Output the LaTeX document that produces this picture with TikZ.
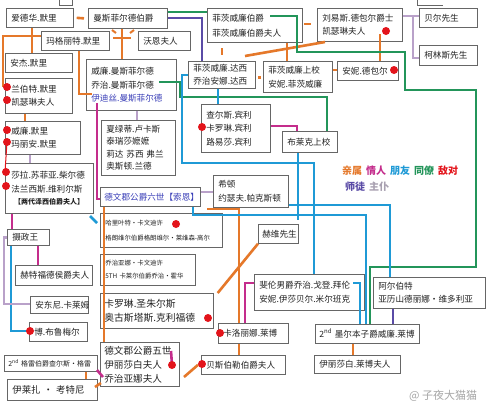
\documentclass[tikz,border=0pt]{standalone}
\usepackage{fontspec}
\setmainfont{Noto Sans CJK SC}
\definecolor{cRel}{HTML}{E5782A}
\definecolor{cLove}{HTML}{C42D8C}
\definecolor{cFr}{HTML}{1F9AD6}
\definecolor{cCol}{HTML}{23955A}
\definecolor{cEn}{HTML}{E3141B}
\definecolor{cMen}{HTML}{5A4BA6}
\definecolor{cSer}{HTML}{B9A1C9}
\definecolor{cSerT}{HTML}{A8A0B0}
\definecolor{boxgray}{HTML}{666666}
\definecolor{txt}{HTML}{222222}
\definecolor{nblue}{HTML}{3A3FB8}
\begin{document}
\begin{tikzpicture}[x=1pt,y=-1pt,
  box/.style={draw=boxgray, line width=0.7pt, fill=white, anchor=north west,
    inner xsep=5pt, inner ysep=0pt, align=left, text=txt,
    font=\fontsize{8.6}{13.5}\selectfont},
  small/.style={font=\fontsize{6.4}{15}\selectfont},
  dot/.style={circle, fill=cEn, minimum size=8pt, inner sep=0pt},
  lnk/.style={line width=2.6pt},
  rel/.style={lnk, draw=cRel},
  love/.style={lnk, draw=cLove},
  fr/.style={lnk, draw=cFr},
  col/.style={lnk, draw=cCol},
  men/.style={lnk, draw=cMen},
  ser/.style={lnk, draw=cSer}]
\useasboundingbox[fill=white] (0,0) rectangle (492,408);

% fragments of boxes cut at the top edge
\draw[boxgray, line width=0.7pt] (59,0) -- (59,5) -- (72,5) -- (72,0);
\draw[boxgray, line width=0.7pt] (417,0) -- (417,5) -- (443,5);

% ---------- boxes ----------
\node[box, text width=57pt, minimum height=19pt] (edw) at (6,8) {爱德华.默里};
\node[box, text width=69pt, minimum height=20pt] (mansE) at (88,8) {曼斯菲尔德伯爵};
\node[box, text width=58pt, minimum height=19pt] (marg) at (41,31) {玛格丽特.默里};
\node[box, text width=42pt, minimum height=19pt] (vaughan) at (138,31) {沃恩夫人};
\node[box, text width=57pt, minimum height=19pt] (anj) at (5,53) {安杰.默里};
\node[box, text width=80pt, minimum height=51pt] (mansW) at (86,59) {威廉.曼斯菲尔德\\乔治.曼斯菲尔德\\\textcolor{nblue}{伊迪丝.曼斯菲尔德}};
\coordinate (edith) at (92,94);
\node[box, text width=55pt, minimum height=35pt, inner xsep=6pt] (lamb) at (5,78) {兰伯特.默里\\凯瑟琳夫人};
\node[box, text width=63pt, minimum height=33pt, inner xsep=6pt] (wmur) at (5,121) {威廉.默里\\玛丽安.默里};
\node[box, text width=76pt, minimum height=50pt, inner xsep=6pt] (sarah) at (5,163) {莎拉.苏菲亚.柴尔德\\法兰西斯.维利尔斯\\[-1pt]{\fontsize{7}{9}\selectfont\bfseries\ 【两代泽西伯爵夫人】}};
\node[box, text width=32pt, minimum height=16pt] (regent) at (7,229) {摄政王};
\node[box, text width=67pt, minimum height=20pt] (hert) at (15,265) {赫特福德侯爵夫人};
\node[box, text width=48pt, minimum height=17pt] (anton) at (30,296) {安东尼.卡莱姆};
\node[box, text width=48pt, minimum height=19pt] (beau) at (29,322) {博.布鲁梅尔};
\node[box, text width=85pt, minimum height=16pt, inner xsep=4pt, font=\fontsize{7}{9}\selectfont] (grey) at (4,355) {2\textsuperscript{nd} 格雷伯爵查尔斯·格雷};
\node[box, text width=80pt, minimum height=21pt, font=\fontsize{9.4}{12}\selectfont] (eliza) at (7,379) {伊莱扎 · 考特尼};

\node[box, text width=64pt, minimum height=55pt, font=\fontsize{8.6}{12.2}\selectfont] (charl) at (101,120) {夏绿蒂.卢卡斯\\泰瑞莎嬷嬷\\莉达 苏西 弗兰\\奥斯顿.兰德};
\node[box, text width=92pt, minimum height=19pt, inner xsep=4pt] (dev6) at (100,187) {\textcolor{nblue}{德文郡公爵六世【索恩】}};
\node[box, text width=112pt, minimum height=34pt, small] (harr) at (100,213) {哈里叶特·卡文迪许\\格朗维尔伯爵格朗维尔·莱维森-高尔};
\node[box, text width=85pt, minimum height=31pt, small, font=\fontsize{6.4}{13}\selectfont] (georg) at (100,254) {乔治亚娜·卡文迪许\\5TH 卡莱尔伯爵乔治·霍华};
\node[box, text width=105pt, minimum height=35pt, inner xsep=4pt, font=\fontsize{9.8}{14}\selectfont] (carol) at (100,293) {卡罗琳.圣朱尔斯\\奥古斯塔斯.克利福德};
\node[box, text width=71pt, minimum height=44pt, inner xsep=4pt, font=\fontsize{9.6}{14}\selectfont] (dev5) at (100,342) {德文郡公爵五世\\伊丽莎白夫人\\乔治亚娜夫人};
\node[box, text width=60pt, minimum height=20pt] (caro) at (218,323) {卡洛丽娜.莱博};
\node[box, text width=74pt, minimum height=19pt] (bess) at (201,355) {贝斯伯勒伯爵夫人};
\node[box, text width=100pt, minimum height=36pt] (byron) at (254,274) {斐伦男爵乔治.戈登.拜伦\\安妮.伊莎贝尔.米尔班克};
\node[box, text width=102pt, minimum height=31pt] (alb) at (373,277) {阿尔伯特\\亚历山德丽娜·维多利亚};
\node[box, text width=96pt, minimum height=19pt, inner xsep=4pt] (melb) at (315,324) {2\textsuperscript{nd} 墨尔本子爵威廉.莱博};
\node[box, text width=76pt, minimum height=18pt] (elizL) at (314,355) {伊丽莎白.莱博夫人};
\node[box, text width=65pt, minimum height=32pt] (paxt) at (213,175) {希顿\\约瑟夫.帕克斯顿};
\node[box, text width=32pt, minimum height=19pt, inner xsep=4pt] (hervey) at (258,224) {赫维先生};

\node[box, text width=85pt, minimum height=34pt, font=\fontsize{8.6}{15}\selectfont] (fitzE) at (207,8) {菲茨威廉伯爵\\菲茨威廉伯爵夫人};
\node[box, text width=57pt, minimum height=27pt, font=\fontsize{8.6}{13}\selectfont] (darcy) at (188,61) {菲茨威廉.达西\\乔治安娜.达西};
\node[box, text width=59pt, minimum height=31pt, font=\fontsize{8.6}{14}\selectfont] (fitzC) at (263,61) {菲茨威廉上校\\安妮.菲茨威廉};
\node[box, text width=59pt, minimum height=48pt] (bing) at (201,104) {查尔斯.宾利\\卡罗琳.宾利\\路易莎.宾利};
\node[box, text width=45pt, minimum height=21pt] (brandon) at (282,131) {布莱克上校};
\node[box, text width=75pt, minimum height=33pt] (debL) at (317,8) {刘易斯.德包尔爵士\\凯瑟琳夫人};
\node[box, text width=48pt, minimum height=19pt] (bell) at (419,8) {贝尔先生};
\node[box, text width=48pt, minimum height=20pt] (coll) at (419,45) {柯林斯先生};
\node[box, text width=51pt, minimum height=19pt] (anneB) at (337,61) {安妮.德包尔};

% ---------- enemy dots (positions) ----------
\coordinate (ld1c) at (7,87);  \coordinate (ld2c) at (7,100);
\coordinate (wd1c) at (7,130); \coordinate (wd2c) at (7,142);
\coordinate (sd1c) at (6,172); \coordinate (sd2c) at (6,186);
\coordinate (beaudc) at (30,331);
\coordinate (dev5dc) at (172,365);

% ---------- relatives (orange) ----------
\draw[rel] ([xshift=3pt]edw.east) -- ([xshift=-4pt]mansE.west);
\draw[rel] (32,0 |- edw.south) -- (32,0 |- anj.north);
\draw[rel] (marg.west |- 0,36) -- (3,36) -- (3,0 |- ld1c);
\draw[rel] (79,0 |- marg.south) |- (edith);
\draw[rel] (122,0 |- mansE.south) -- (122,0 |- mansW.north);
\draw[rel] (113,38) -- (131,38);
\draw[rel, line width=2pt] (112,30) -- (116,33);
\draw[rel, line width=2pt] (130,33) -- (134,30);
\draw[rel] (25,0 |- lamb.south) -- (25,0 |- wmur.north);
\draw[rel] (222,48) -- (222,55);
\draw[rel] (245,56) -- (325,42);
\draw[rel] (287,0 |- fitzE.south) -- (287,0 |- fitzC.north);
\draw[rel] (304,24) -- (311,24);
\draw[rel] (fitzC.east |- 0,70) -- (anneB.west |- 0,70);
\fill[cRel] (258,76) rectangle (261,79);
\draw[rel] (380,34) -- (380,0 |- anneB.north);
\draw[rel] (104,0 |- dev6.south) -- (104,0 |- dev5.north);
\draw[rel] (207,209) -| (239,0 |- caro.north);
\draw[rel] (hervey.south west) -- ([xshift=4pt]carol.north east);
\draw[rel] (239,0 |- caro.south) -- (239,0 |- bess.north);
\draw[rel] ([xshift=-3pt]bess.west) -- (184,377);
\draw[rel] (353,0 |- melb.south) -- (353,0 |- elizL.north);
\draw[rel] (86,0 |- grey.south) -- (86,0 |- eliza.north);
\draw[rel] (95,387) -- (101,383);

% ---------- lovers (magenta) ----------
\draw[love] (97,103) |- (dev6.west |- 0,199);
\draw[love] (12,0 |- sarah.south) -- (12,0 |- regent.north);
\draw[love] (38,0 |- regent.south) -- (38,0 |- hert.north);
\draw[love] (245,0 |- caro.north) |- (byron.west |- 0,283);
\draw[love] (171,351) -- (dev5dc);
\draw[love] (bing.east |- 0,126) -| (297,0 |- brandon.north);
\draw[love] (97,370) -- (103,377);

% ---------- colleagues (green) ----------
\draw[col] (mansE.east |- 0,12) -- (fitzE.west |- 0,12);
\draw[col] (270,16) -| (297,52) -| (405,90) -| (476,267) -| (370,0 |- melb.north);
\draw[col] (159,82) -| (180,97) -| (327,0 |- brandon.north);

% ---------- friends (blue) ----------
\draw[fr] (darcy.west) -| (182,163) -| (314,0 |- byron.north);
\draw[fr] (298,0 |- brandon.south) -- (298,220);
\draw[fr] (paxt.east |- 0,205) -| (390,0 |- alb.north);
\draw[fr] (193,0 |- dev6.south) |- (366,215) -- (366,0 |- melb.north);
\draw[fr] (353,283) -| (360,0 |- melb.north);
\draw[fr] (11,0 |- regent.south) |- (beaudc);
\draw[fr] (90,216) -- (97,223);
\draw[fr] (218,0 |- darcy.south) -- (218,0 |- bing.north);

% ---------- mentor (purple) ----------
\draw[men] (mansE.east |- 0,18) -| (202,0 |- darcy.north);
\draw[men] (393,0 |- alb.south) -- (393,0 |- melb.north);

% ---------- servant (light purple) ----------
\draw[ser] (137,0 |- mansW.south) -- (137,0 |- charl.north);
\draw[ser] (30,0 |- wmur.south) -- (30,0 |- sarah.north);
\draw[ser] (debL.east |- 0,16) -- (bell.west |- 0,16);
\draw[ser] (413,16) |- (coll.west |- 0,58);
\draw[ser] (regent.west) -| (4,304) -- (anton.west |- 0,304);
\draw[ser] (dev6.east |- 0,192) -- (paxt.west |- 0,192);

% ---------- enemies (red dots) ----------
\draw[cEn, line width=1pt] (wd2c) -- (5,172);
\node[dot] (ld1) at (ld1c) {};
\node[dot] (ld2) at (ld2c) {};
\node[dot] (wd1) at (wd1c) {};
\node[dot] (wd2) at (wd2c) {};
\node[dot] (sd1) at (sd1c) {};
\node[dot] (sd2) at (sd2c) {};
\node[dot] (debd) at (386,31) {};
\node[dot] (anned) at (394,70) {};
\node[dot] (bingd) at (202,127) {};
\node[dot] (harrd) at (176,224) {};
\node[dot] (augd) at (208,318) {};
\node[dot] (carod) at (220,333) {};
\node[dot] (bessd) at (202,364) {};
\node[dot] (dev5d) at (dev5dc) {};
\node[dot] (beaud) at (beaudc) {};

% ---------- legend ----------
\node[anchor=west, inner sep=0pt, font=\fontsize{10}{12}\selectfont\bfseries] (leg1) at (342,171)
  {\textcolor{cRel}{亲属}\hspace{4pt}\textcolor{cLove}{情人}\hspace{4pt}\textcolor{cFr}{朋友}\hspace{4pt}\textcolor{cCol}{同僚}\hspace{4pt}\textcolor{cEn}{敌对}};
\node[anchor=west, inner sep=0pt, font=\fontsize{10}{12}\selectfont\bfseries] (leg2) at (345,187)
  {\textcolor{cMen}{师徒}\hspace{4pt}\textcolor{cSerT}{主仆}};

% watermark
\node[anchor=west, inner sep=0pt, text=gray!70, font=\fontsize{11}{12}\selectfont] (wm) at (409,396) {@ 子夜大猫猫};
\end{tikzpicture}
\end{document}
